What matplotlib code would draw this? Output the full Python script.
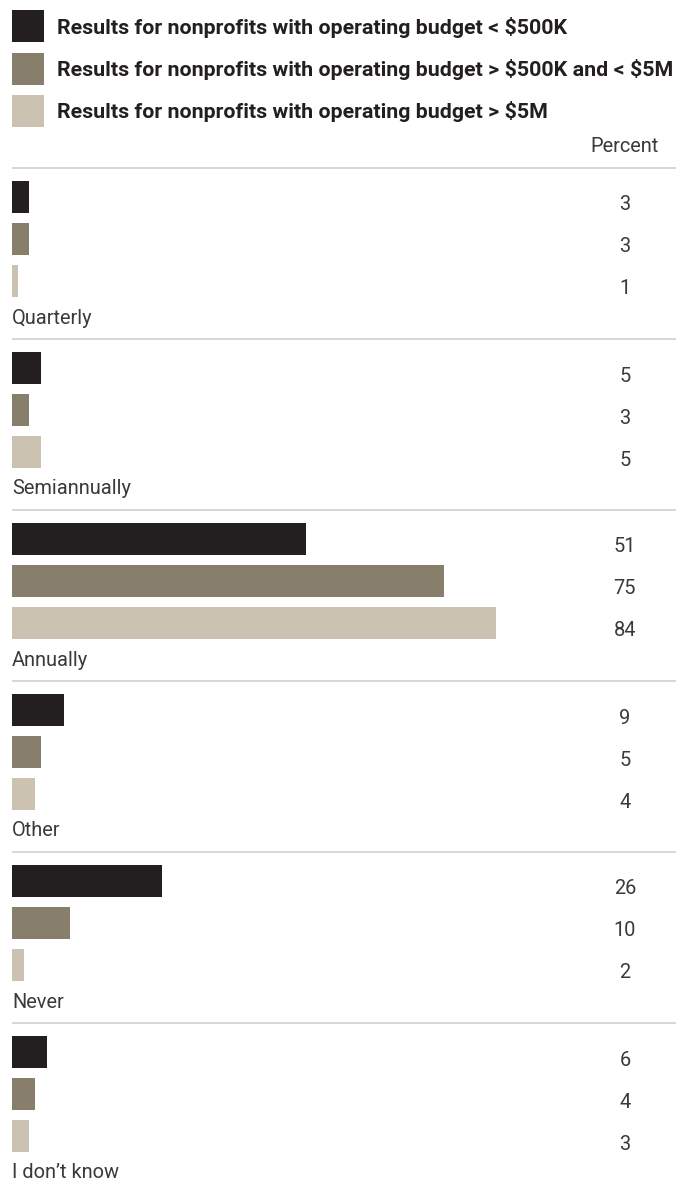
import matplotlib
matplotlib.use("Agg")
import matplotlib.pyplot as plt
from matplotlib.patches import Rectangle

# ---- data ----
categories = ["Quarterly", "Semiannually", "Annually", "Other", "Never", "I don\u2019t know"]
series_names = [
    "Results for nonprofits with operating budget < $500K",
    "Results for nonprofits with operating budget > $500K and < $5M",
    "Results for nonprofits with operating budget > $5M",
]
small_budget = [3, 5, 51, 9, 26, 6]
mid_budget = [3, 3, 75, 5, 10, 4]
large_budget = [1, 5, 84, 4, 2, 3]
series_values = [small_budget, mid_budget, large_budget]
colors = ["#231f20", "#877e6c", "#cbc2b1"]
unit_label = "Percent"

# ---- fonts ----
FAM = ["Roboto", "DejaVu Sans"]
LEG_SIZE, TXT_SIZE = 15.4, 14.4
TXT_COLOR = "#3a3a3a"

W, H = 695, 1188
fig = plt.figure(figsize=(W / 100, H / 100), dpi=100)
ax = fig.add_axes([0, 0, 1, 1])
PX = 5.76  # pixels per percent
X0 = 12
ax.set_xlim(-X0 / PX, (W - X0) / PX)
ax.set_ylim(H, 0)
ax.axis("off")

def px2x(p):
    return (p - X0) / PX

# legend
for i, (name, c) in enumerate(zip(series_names, colors)):
    top = 10 + 42.5 * i
    ax.add_patch(Rectangle((px2x(12), top), 32 / PX, 32, color=c, lw=0))
    ax.text(px2x(57), top + 17, name, family=FAM, weight="bold",
            size=LEG_SIZE, color="#231f20", va="center", ha="left",
            parse_math=False)

ax.text(px2x(659), 147, unit_label, family=FAM, size=TXT_SIZE,
        color=TXT_COLOR, va="center", ha="right")

GROUP_H = 171
LINE0 = 168
for g, cat in enumerate(categories):
    line_y = LINE0 + GROUP_H * g
    ax.plot([px2x(12), px2x(676)], [line_y, line_y], color="#d3d3d3", lw=1.3,
            solid_capstyle="butt")
    centers = [line_y + 29 + 42 * k for k in range(3)]
    for k in range(3):
        v = series_values[k][g]
        ax.barh(centers[k], v, height=32, left=0, color=colors[k], lw=0)
        ax.text(px2x(625), centers[k] + 8, str(v), family=FAM, size=TXT_SIZE,
                color=TXT_COLOR, va="center", ha="center")
    ax.text(px2x(12), line_y + 150, cat, family=FAM, size=TXT_SIZE,
            color=TXT_COLOR, va="center", ha="left")

fig.savefig("out.png", dpi=100, facecolor="white")
